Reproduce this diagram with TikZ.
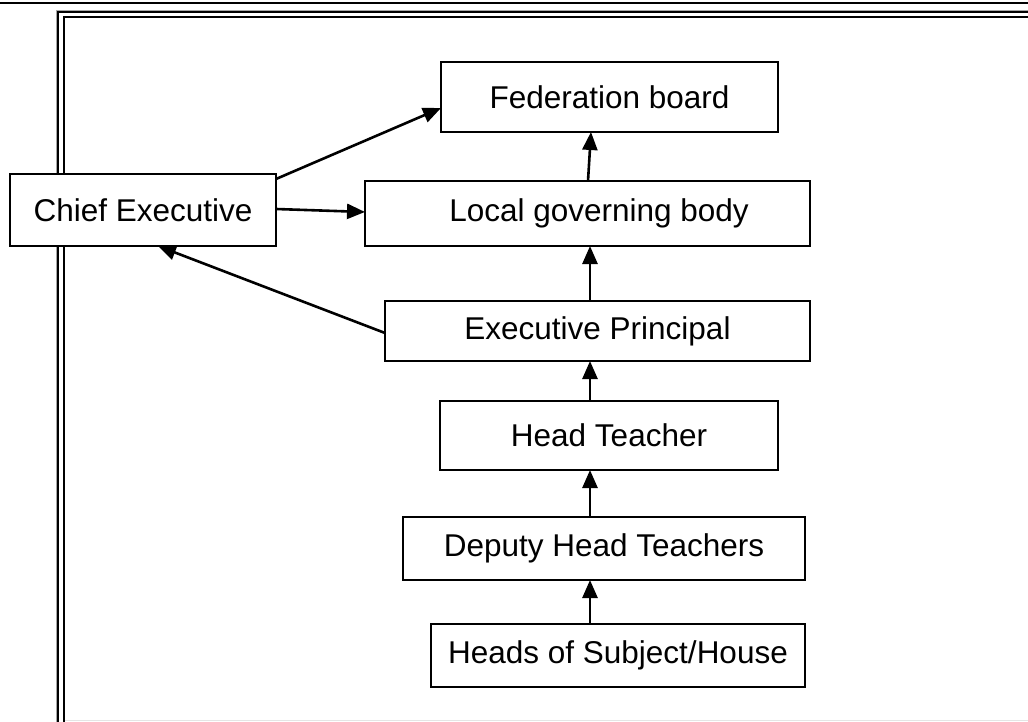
\documentclass[tikz,border=0pt]{standalone}
\usepackage{fontspec}
\setmainfont{Liberation Sans}
\usetikzlibrary{arrows.meta,calc}
\begin{document}
\begin{tikzpicture}[x=1pt,y=-1pt,
  orgbox/.style={draw=black,fill=white,line width=2.3pt,rectangle,inner sep=0pt,outer sep=0pt,
    font=\fontsize{31.5}{36}\selectfont},
  link/.style={line width=2.6pt,-{Triangle[length=18pt,width=15pt]}},
  framedark/.style={line width=2.2pt,black},
  framegray/.style={line width=1.3pt,gray!70}]
\useasboundingbox (0,0) rectangle (1028,722);
% page rule and double frame
\draw[line width=2pt] (0,3) -- (1028,3);
\draw[framegray] (56.5,722) -- (56.5,10.5) -- (1028,10.5);
\draw[line width=1.6pt] (58.2,722) -- (58.2,12) -- (1028,12);
\draw[framedark] (64.2,722) -- (64.2,17) -- (1028,17);
\draw[line width=1pt,gray!20] (65,720.5) -- (1028,720.5);
% boxes
\node[orgbox,minimum width=337,minimum height=70] (fed) at (609.5,97) {Federation board};
\node[orgbox,minimum width=445,minimum height=65] (local) at (587.5,213.5) {};
\node[font=\fontsize{31.5}{36}\selectfont] at ($(local.center)+(11.5,0)$) {Local governing body};
\node[orgbox,minimum width=266,minimum height=72] (chief) at (143,210) {Chief Executive};
\node[orgbox,minimum width=425,minimum height=60] (exec) at (597.5,331) {Executive Principal};
\node[orgbox,minimum width=338,minimum height=69] (head) at (609,435.5) {Head Teacher};
\node[orgbox,minimum width=402,minimum height=63] (deputy) at (604,548.5) {Deputy Head Teachers};
\node[orgbox,minimum width=374,minimum height=63] (subj) at (618,655.5) {Heads of Subject/House};
% column for the vertical links
\coordinate (col) at (590,0);
% links
\draw[link] ($(chief.north east)+(0,5)$) -- ($(fed.west)+(0,11)$);
\draw[link] ($(chief.east)+(0,-1)$) -- ($(local.west)+(0,-1.5)$);
\draw[link] ($(exec.west)+(0,2)$) -- ($(chief.south)+(15,0)$);
\draw[link] ($(local.north -| col)+(-2,0)$) -- ($(fed.south -| col)+(1,0)$);
\draw[link] (exec.north -| col) -- (local.south -| col);
\draw[link] (head.north -| col) -- (exec.south -| col);
\draw[link] (deputy.north -| col) -- (head.south -| col);
\draw[link] (subj.north -| col) -- (deputy.south -| col);
\end{tikzpicture}
\end{document}
